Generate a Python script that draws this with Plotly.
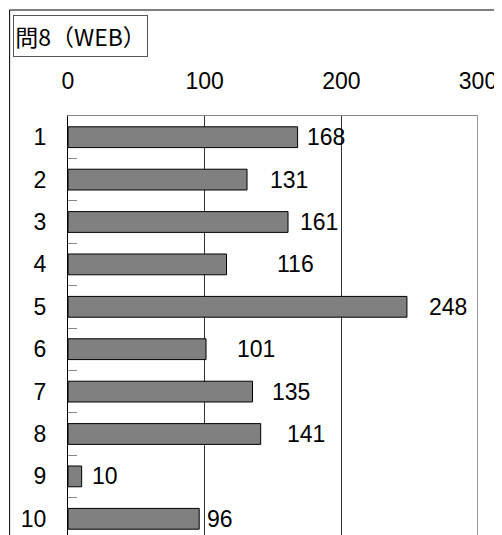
import plotly.graph_objects as go

categories = ["1", "2", "3", "4", "5", "6", "7", "8", "9", "10"]
values = [168, 131, 161, 116, 248, 101, 135, 141, 10, 96]
x_tick_vals = [0, 100, 200, 300]
title_text = "問8（WEB）"

# label pixel offsets from bar ends (layout detail)
label_shift = [7, 21, 10, 48, 20, 29, 17, 24, 8, 6]

OFF = 8  # page body margin
W, H = 502 - OFF, 535 - OFF
L, R, T, B = 68.3 - OFF, 24.3, 116 - OFF, 0
pw, ph = W - L - R, H - T - B
ROW = 42.4
y_bottom = -0.5 + ph / ROW

def px_x(p):
    return (p - OFF - L) / pw

def px_y(p):
    return (H - B - (p - OFF)) / ph

NUMFONT = "Liberation Sans, Arial, sans-serif"

fig = go.Figure()
fig.add_trace(go.Bar(
    y=categories, x=values, orientation="h", width=0.49,
    marker=dict(color="#808080", line=dict(color="#000000", width=1)),
    hoverinfo="skip",
))

annotations = []
for i, (v, s) in enumerate(zip(values, label_shift)):
    annotations.append(dict(
        x=v, y=i, xref="x", yref="y", text=str(v), showarrow=False,
        xanchor="left", yanchor="middle", xshift=s,
        font=dict(family=NUMFONT, size=23, color="#000000"),
    ))

annotations.append(dict(
    x=px_x(13), y=px_y(15), xref="paper", yref="paper", text=title_text,
    showarrow=False, xanchor="left", yanchor="top",
    width=133, height=40, align="center", valign="middle",
    bordercolor="#555555", borderwidth=1, borderpad=0,
    font=dict(family="Noto Sans CJK JP, sans-serif", size=23, color="#000000"),
))

shapes = [
    # outer chart frame (left and top edges)
    dict(type="line", xref="paper", yref="paper", x0=px_x(10), x1=px_x(10),
         y0=px_y(10), y1=-0.1, line=dict(color="#000000", width=1)),
    dict(type="line", xref="paper", yref="paper", x0=px_x(10), x1=px_x(540),
         y0=px_y(10), y1=px_y(10), line=dict(color="#000000", width=1)),
    # right edge of plot area at 300
    dict(type="line", xref="x", yref="paper", x0=300, x1=300, y0=0, y1=1,
         line=dict(color="#333333", width=1), layer="below"),
]

fig.update_layout(
    width=W, height=H,
    margin=dict(l=L, r=R, t=T, b=B, pad=0),
    paper_bgcolor="#ffffff", plot_bgcolor="#ffffff",
    showlegend=False,
    annotations=annotations, shapes=shapes,
    xaxis=dict(
        side="top", range=[0, 300], tickvals=x_tick_vals,
        showgrid=True, gridcolor="#333333", gridwidth=1,
        showline=True, linecolor="#888888", linewidth=1,
        ticks="", ticklabelstandoff=17, zeroline=False,
        tickfont=dict(family=NUMFONT, size=23, color="#000000"),
        fixedrange=True,
    ),
    yaxis=dict(
        type="category", categoryorder="array", categoryarray=categories,
        range=[y_bottom, -0.5],
        showline=True, linecolor="#000000", linewidth=1,
        ticks="inside", tickson="boundaries", ticklen=9,
        tickcolor="#888888", tickwidth=1,
        ticklabelstandoff=16, showgrid=False, zeroline=False,
        tickfont=dict(family=NUMFONT, size=23, color="#000000"),
        fixedrange=True,
    ),
)

fig.write_html("out.html")
